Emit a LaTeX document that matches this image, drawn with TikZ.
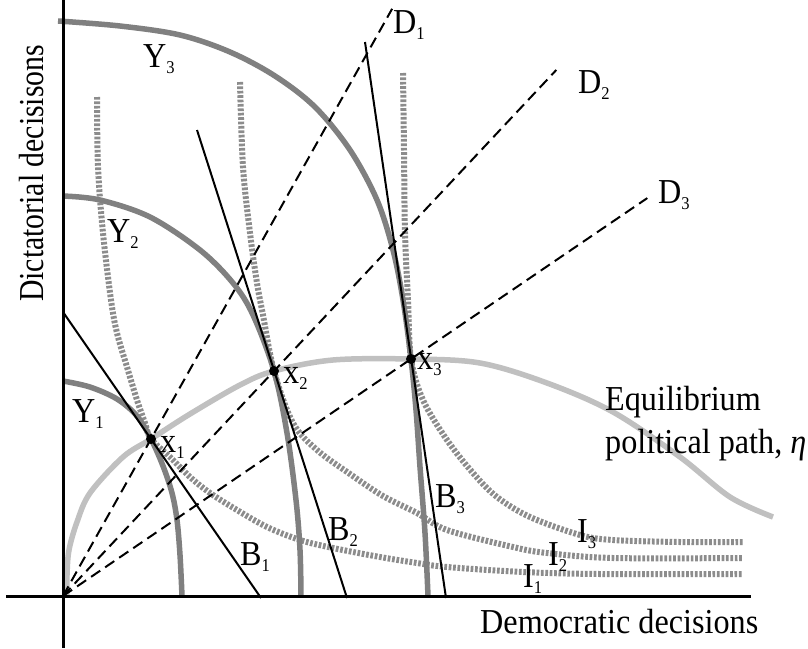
\documentclass[tikz,border=0pt]{standalone}
\usepackage{fontspec}
\setmainfont{Liberation Serif}[FakeStretch=0.92]
\newfontfamily\vfont{Liberation Serif}[FakeStretch=0.85]
\usetikzlibrary{calc}
\definecolor{ygray}{HTML}{808080}
\definecolor{igray}{HTML}{8C8C8C}
\definecolor{egray}{HTML}{C0C0C0}
\newcommand{\mysub}[1]{\raisebox{-6.5pt}{\fontsize{18}{18}\selectfont #1}}
\begin{document}
\begin{tikzpicture}[x=1pt,y=-1pt,
  ycurve/.style={draw=ygray,line width=5.5pt},
  icurve/.style={draw=igray,line width=6pt,dash pattern=on 2.7pt off 1.7pt},
  eqpath/.style={draw=egray,line width=5.5pt},
  axisline/.style={draw=black,line width=3pt},
  budget/.style={draw=black,line width=2pt},
  ray/.style={draw=black,line width=2pt,dash pattern=on 11pt off 6pt},
  lbl/.style={inner sep=0pt,anchor=base west,font=\fontsize{35}{40}\selectfont},
  xlbl/.style={inner sep=0pt,anchor=base west,font=\fontsize{35}{40}\selectfont},
  eqpt/.style={circle,fill=black,inner sep=0pt,minimum size=10pt}]
\useasboundingbox (0,0) rectangle (808,648);
\fill[white] (0,0) rectangle (808,648);
% key coordinates
\coordinate (O) at (63,596);
\coordinate (X1) at (151,439);
\coordinate (X2) at (274,371);
\coordinate (X3) at (411,359);
\coordinate (VT) at (63,0);
\coordinate (VB) at (63,648);
\coordinate (HL) at (6,596);
\coordinate (HR) at (751,596);
\coordinate (D1e) at ($(O)!3.74!(X1)$);
\coordinate (D2e) at ($(O)!2.338!(X2)$);
\coordinate (D3e) at ($(O)!1.679!(X3)$);
\coordinate (B1a) at (63,312);
\coordinate (B1b) at (261,598);
\coordinate (B2a) at (197,130);
\coordinate (B2b) at (347,598);
\coordinate (B3a) at (365,42);
\coordinate (B3b) at (446,598);
% equilibrium path
\draw[eqpath] plot[smooth,tension=0.55] coordinates {(67,596) (67,575) (69,550) (77,522) (90,493) (123,457) (151,439) (190,414) (240,385) (274,371) (333,360) (411,359) (480,363) (547,383) (613,412) (680,457) (730,497) (773,517)};
% indifference curves
\draw[icurve] plot[smooth,tension=0.55] coordinates {(97,97) (98,167) (103,233) (111,300) (117,333) (127,367) (137,400) (145,423) (151,439) (170,457) (190,477) (210,493) (237,510) (267,527) (300,540) (333,548) (380,557) (417,563) (447,567) (523,572) (600,574) (743,574)};
\draw[icurve] plot[smooth,tension=0.55] coordinates {(240,82) (243,167) (250,233) (257,283) (263,315) (274,371) (293,423) (317,450) (350,474) (383,496) (417,513) (447,530) (513,547) (547,553) (613,558) (743,558)};
\draw[icurve] plot[smooth,tension=0.55] coordinates {(403,73) (404,150) (405,233) (408,300) (411,359) (423,400) (447,440) (473,473) (497,497) (530,517) (580,535) (613,540) (680,542) (743,542)};
% production frontiers
\draw[ycurve] plot[smooth,tension=0.55] coordinates {(63,381) (90,387) (117,399) (137,416) (151,439) (163,466) (172,493) (177,520) (180,555) (182,596)};
\draw[ycurve] plot[smooth,tension=0.55] coordinates {(63,196) (100,200) (150,217) (200,250) (233,283) (253,315) (274,371) (287,433) (296,500) (300,550) (301,596)};
\draw[ycurve] plot[smooth,tension=0.55] coordinates {(58,21) (120,26) (180,35) (230,52) (275,76) (315,107) (350,150) (377,200) (393,250) (403,300) (411,359) (416,410) (420,467) (425,533) (428,596)};
% rays
\draw[ray] (O) -- (D1e);
\draw[ray] (O) -- (D2e);
\draw[ray] (O) -- (D3e);
% budget lines
\draw[budget] (B1a) -- (B1b);
\draw[budget] (B2a) -- (B2b);
\draw[budget] (B3a) -- (B3b);
% axes
\draw[axisline] (VT) -- (VB);
\draw[axisline] (HL) -- (HR);
% points
\node[eqpt] (p1) at (X1) {};
\node[eqpt] (p2) at (X2) {};
\node[eqpt] (p3) at (X3) {};
% labels
\node[lbl] (lY3) at (143,67) {Y\mysub{3}};
\node[lbl] (lY2) at (107,242) {Y\mysub{2}};
\node[lbl] (lY1) at (72,422) {Y\mysub{1}};
\node[xlbl] (lx1) at (160,452) {x\mysub{1}};
\node[xlbl] (lx2) at (283,383) {x\mysub{2}};
\node[xlbl] (lx3) at (417,369) {x\mysub{3}};
\node[lbl] (lB1) at (240,565) {B\mysub{1}};
\node[lbl] (lB2) at (328,540) {B\mysub{2}};
\node[lbl] (lB3) at (435,507) {B\mysub{3}};
\node[lbl] (lI1) at (523,587) {I\mysub{1}};
\node[lbl] (lI2) at (548,565) {I\mysub{2}};
\node[lbl] (lI3) at (577,542) {I\mysub{3}};
\node[lbl] (lD1) at (393,33) {D\mysub{1}};
\node[lbl] (lD2) at (578,93) {D\mysub{2}};
\node[lbl] (lD3) at (658,203) {D\mysub{3}};
\node[lbl] (eq1) at (605,410) {Equilibrium};
\node[lbl] (eq2) at (605,453) {political path, {\itshape η}};
\node[lbl] (xaxl) at (480,633) {Democratic decisions};
\node[inner sep=0pt,anchor=base west,rotate=90,font=\vfont\fontsize{35}{40}\selectfont] (yaxl) at (43,302) {Dictatorial decisisons};
\end{tikzpicture}
\end{document}
